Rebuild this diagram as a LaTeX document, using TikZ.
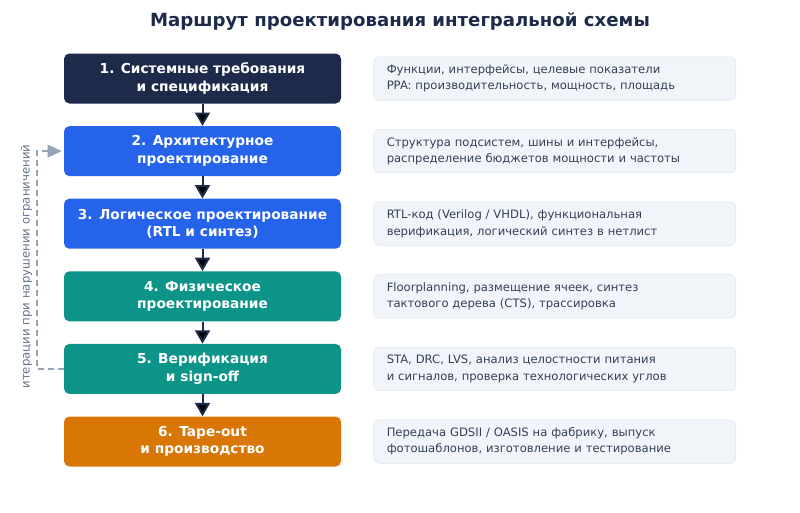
\documentclass[tikz,border=0pt]{standalone}
\usepackage{fontspec}
\setmainfont{DejaVu Sans}
\usetikzlibrary{arrows.meta}

\definecolor{navy}{HTML}{1E2A4A}
\definecolor{archblue}{HTML}{2563EB}
\definecolor{physteal}{HTML}{0D9488}
\definecolor{tapeorange}{HTML}{D97706}
\definecolor{notefill}{HTML}{F1F5F9}
\definecolor{noteline}{HTML}{DCE3EC}
\definecolor{notetext}{HTML}{334155}
\definecolor{loopgray}{HTML}{94A3B8}
\definecolor{labelgray}{HTML}{64748B}

\begin{document}
\begin{tikzpicture}[x=0.75pt, y=-0.75pt,
    stage/.style={shape=rectangle, rounded corners=4pt, minimum width=207.75pt,
      minimum height=37.5pt, align=center, text=white,
      font=\fontsize{10.3}{13.2}\selectfont\bfseries},
    note/.style={shape=rectangle, rounded corners=4pt, draw=noteline, fill=notefill,
      text=notetext, text width=252pt, inner xsep=9.75pt, minimum height=32.6pt,
      align=left, font=\fontsize{8.7}{12.2}\selectfont},
    flow/.style={->, line width=1.5pt, draw=navy, >={Triangle[width=11.25pt,length=10pt]}}]
  \useasboundingbox (0,0) rectangle (800,512);

  \node [text=navy, font=\fontsize{13.6}{16}\selectfont\bfseries] (title) at (400,22)
    {Маршрут проектирования интегральной схемы};

  % stages
  \node [stage, fill=navy] (s1) at (202.5,78.5) {1. Системные требования\\и спецификация};
  \node [stage, fill=archblue] (s2) at (202.5,151.1) {2. Архитектурное\\проектирование};
  \node [stage, fill=archblue] (s3) at (202.5,223.7) {3. Логическое проектирование\\(RTL и синтез)};
  \node [stage, fill=physteal] (s4) at (202.5,296.3) {4. Физическое\\проектирование};
  \node [stage, fill=physteal] (s5) at (202.5,368.9) {5. Верификация\\и sign-off};
  \node [stage, fill=tapeorange] (s6) at (202.5,441.5) {6. Tape-out\\и производство};

  % notes
  \node [note] (n1) at (554.75,78.5) {Функции, интерфейсы, целевые показатели\\PPA: производительность, мощность, площадь};
  \node [note] (n2) at (554.75,151.1) {Структура подсистем, шины и интерфейсы,\\распределение бюджетов мощности и частоты};
  \node [note] (n3) at (554.75,223.7) {RTL-код (Verilog / VHDL), функциональная\\верификация, логический синтез в нетлист};
  \node [note] (n4) at (554.75,296.3) {Floorplanning, размещение ячеек, синтез\\тактового дерева (CTS), трассировка};
  \node [note] (n5) at (554.75,368.9) {STA, DRC, LVS, анализ целостности питания\\и сигналов, проверка технологических углов};
  \node [note] (n6) at (554.75,441.5) {Передача GDSII / OASIS на фабрику, выпуск\\фотошаблонов, изготовление и тестирование};

  \path [flow] (s1) edge (s2);
  \path [flow] (s2) edge (s3);
  \path [flow] (s3) edge (s4);
  \path [flow] (s4) edge (s5);
  \path [flow] (s5) edge (s6);

  % feedback loop
  \coordinate (lb) at (37,368.9);
  \coordinate (lt) at (37,151.1);
  \draw [->, line width=1.1pt, draw=loopgray, dash pattern=on 4.5pt off 3pt,
    >={Triangle[width=9.5pt,length=10.5pt]}, shorten >=1.5pt] (s5.west) -- (lb) -- (lt) -- (s2.west);
  \node [rotate=90, text=labelgray, font=\fontsize{8.8}{11}\selectfont] (looplabel) at (26.5,266.5)
    {итерации при нарушении ограничений};
\end{tikzpicture}
\end{document}
